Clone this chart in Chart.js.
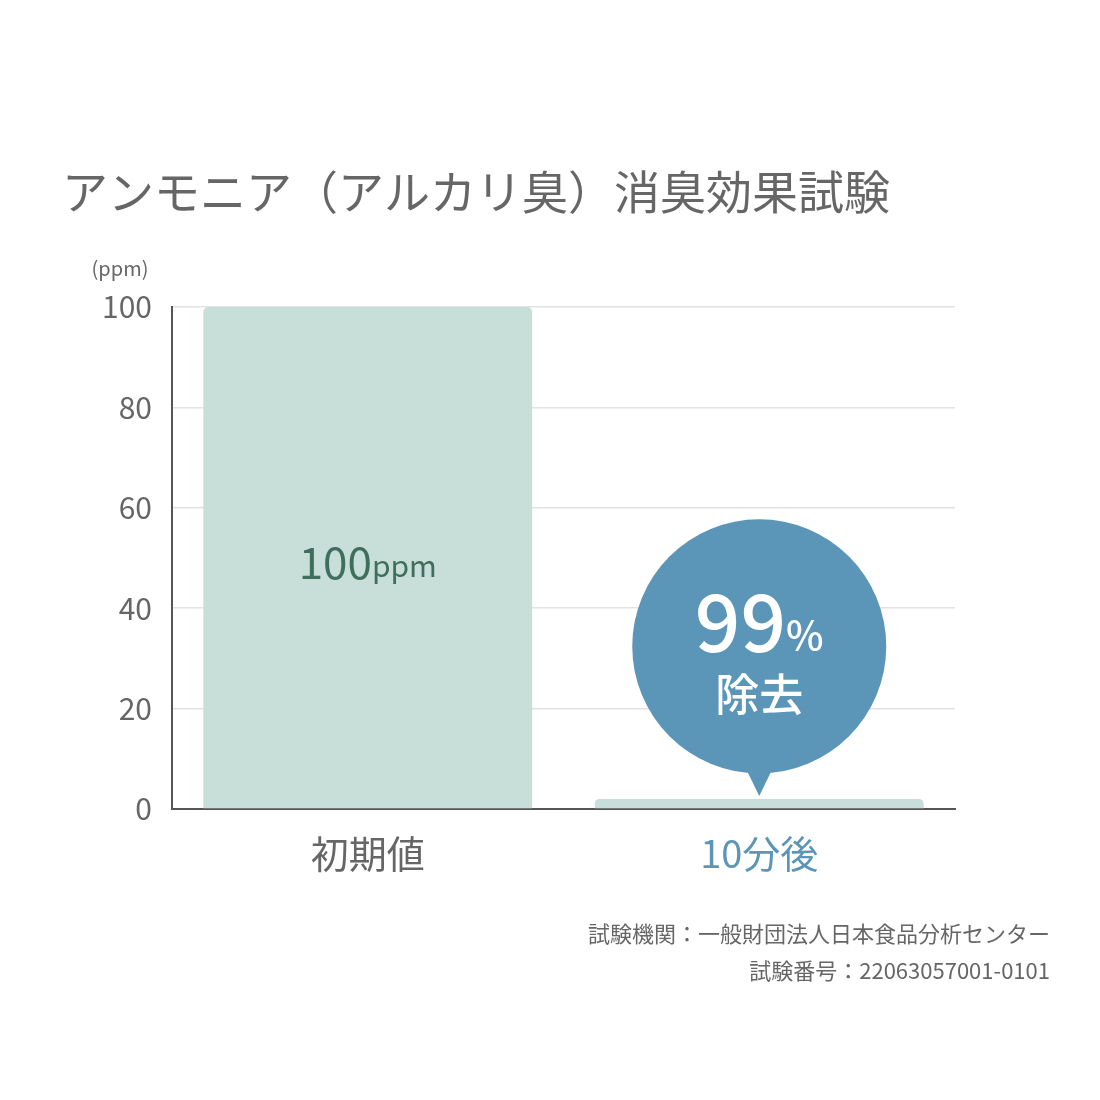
<!DOCTYPE html>
<html><head><meta charset="utf-8">
<script src="https://cdn.jsdelivr.net/npm/chart.js@4"></script>
<style>body{margin:0;background:#fff}canvas{display:block}</style>
</head><body>
<canvas id="c" width="1100" height="1100"></canvas>
<script>
const categories = ['初期値', '10分後'];
const values = [100, 2];
const yTicks = [0, 20, 40, 60, 80, 100];
const FONT = '"Noto Sans CJK JP", "Noto Sans", sans-serif';

// Title, unit, bar label, bubble and footnotes
const overlay = {
    id: 'overlay',
    afterDatasetsDraw(chart) {
        const ctx = chart.ctx;
        const x = chart.scales.x, y = chart.scales.y;
        ctx.save();
        ctx.fillStyle = '#666';
        ctx.font = '46px ' + FONT;
        ctx.textBaseline = 'middle';
        ctx.textAlign = 'left';
        ctx.fillText('アンモニア（アルカリ臭）消臭効果試験', 62, 192);
        ctx.font = '20px ' + FONT;
        ctx.textAlign = 'center';
        ctx.fillText('(ppm)', 120, 268);

        // label in first bar
        const bx = x.getPixelForValue(0), by = y.getPixelForValue(values[0] / 2) + 4;
        ctx.fillStyle = '#3f6e5c';
        ctx.font = '44px ' + FONT;
        const w1 = ctx.measureText('100').width;
        ctx.font = '30px ' + FONT;
        const w2 = ctx.measureText('ppm').width;
        const sx = bx - (w1 + w2) / 2;
        ctx.textAlign = 'left';
        ctx.font = '44px ' + FONT;
        ctx.fillText('100', sx, by);
        ctx.font = '30px ' + FONT;
        ctx.fillText('ppm', sx + w1, by + 4);

        // bubble over second bar
        const cx = x.getPixelForValue(1), cy = y.getPixelForValue(32.4);
        const r = 127;
        const tipY = y.getPixelForValue(values[1]) - 3;
        ctx.fillStyle = '#5b96b8';
        ctx.beginPath();
        ctx.arc(cx, cy, r, 0, Math.PI * 2);
        ctx.fill();
        ctx.beginPath();
        ctx.moveTo(cx - 14, cy + r - 6);
        ctx.lineTo(cx + 14, cy + r - 6);
        ctx.lineTo(cx, tipY);
        ctx.closePath();
        ctx.fill();
        ctx.fillStyle = '#fff';
        ctx.font = '500 80px ' + FONT;
        const p1 = ctx.measureText('99').width;
        ctx.font = '500 40px ' + FONT;
        const p2 = ctx.measureText('%').width;
        const px = cx - (p1 + p2) / 2;
        ctx.font = '500 80px ' + FONT;
        ctx.fillText('99', px, cy - 25);
        ctx.font = '500 40px ' + FONT;
        ctx.fillText('%', px + p1, cy - 12);
        ctx.textAlign = 'center';
        ctx.font = '500 44px ' + FONT;
        ctx.fillText('除去', cx, cy + 48);

        // footnotes
        ctx.fillStyle = '#666';
        ctx.font = '22px ' + FONT;
        ctx.textAlign = 'right';
        ctx.fillText('試験機関：一般財団法人日本食品分析センター', 1050, 934);
        ctx.fillText('試験番号：22063057001-0101', 1050, 971);
        ctx.restore();
    }
};

new Chart(document.getElementById('c').getContext('2d'), {
    type: 'bar',
    data: {
        labels: categories,
        datasets: [{
            data: values,
            backgroundColor: '#c8ded8',
            borderRadius: 5,
            borderSkipped: 'bottom',
            barPercentage: 0.84,
            categoryPercentage: 1
        }]
    },
    options: {
        responsive: false,
        animation: false,
        layout: { padding: { top: 307, right: 145, left: 0, bottom: 0 } },
        plugins: { legend: { display: false }, tooltip: { enabled: false } },
        scales: {
            x: {
                afterFit(s) { s.height = 291; },
                grid: { display: false, drawTicks: false },
                border: { color: '#555', width: 2 },
                ticks: {
                    padding: 22,
                    font: { size: 38, family: FONT },
                    color: (c) => c.index === 1 ? '#5b96b8' : '#666'
                }
            },
            y: {
                min: 0, max: 100,
                afterFit(s) { s.width = 172; },
                afterBuildTicks(s) { s.ticks = yTicks.map(v => ({ value: v })); },
                grid: { color: '#e2e2e2', lineWidth: 1.5, drawTicks: false },
                border: { color: '#555', width: 2 },
                ticks: { padding: 20, font: { size: 30, family: FONT }, color: '#666' }
            }
        }
    },
    plugins: [overlay]
});
</script>
</body></html>
